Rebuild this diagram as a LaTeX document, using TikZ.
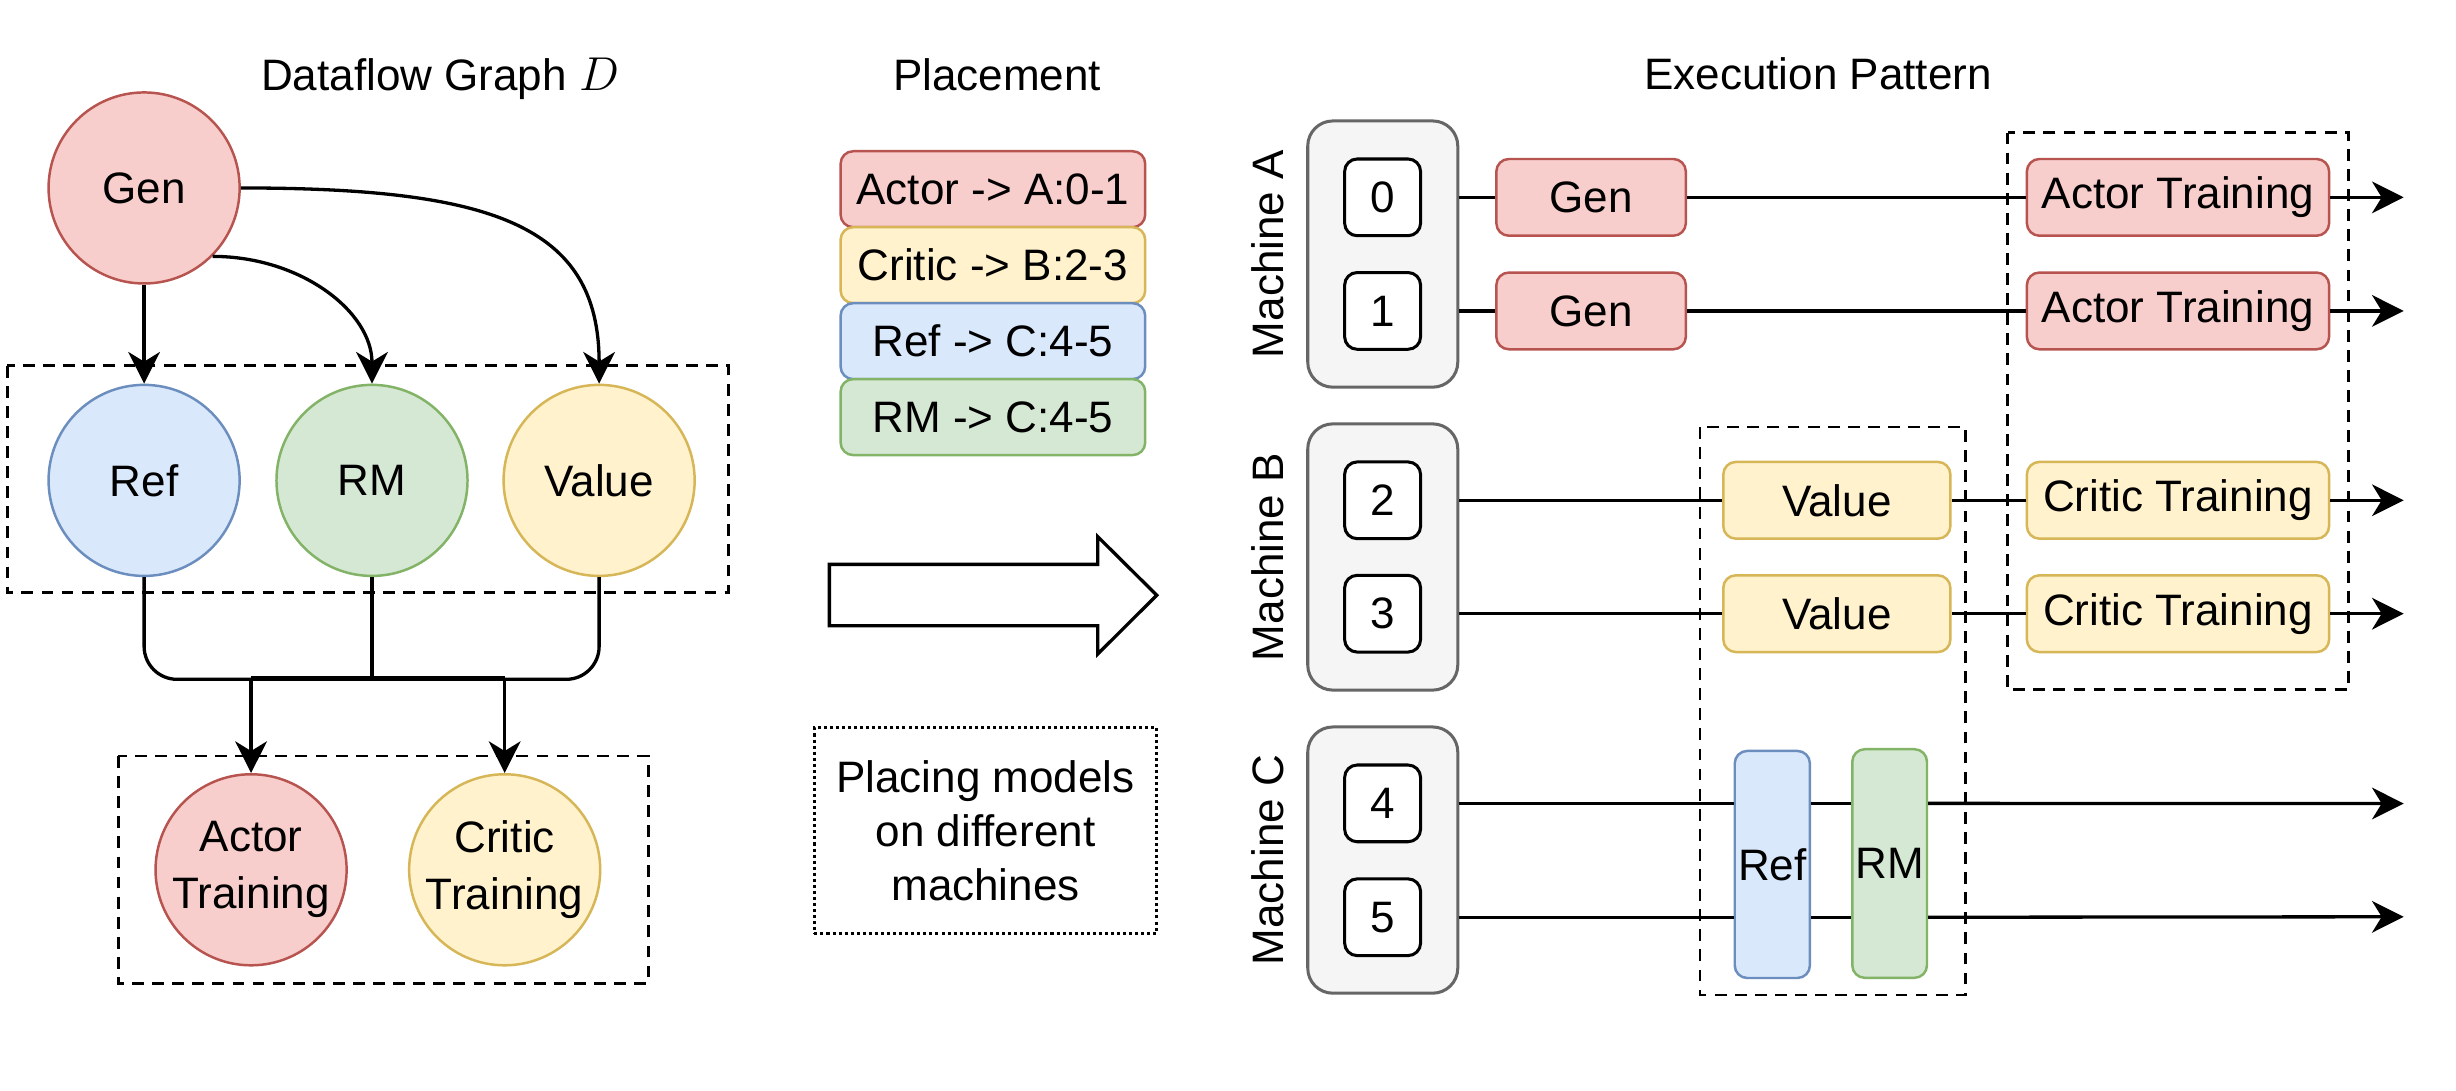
\documentclass[tikz,border=0pt]{standalone}
\usepackage{fontspec}
\setmainfont{Liberation Sans}
\usetikzlibrary{arrows.meta,calc}
\definecolor{redF}{HTML}{F8CECC}\definecolor{redD}{HTML}{B85450}
\definecolor{yelF}{HTML}{FFF2CC}\definecolor{yelD}{HTML}{D6B656}
\definecolor{bluF}{HTML}{DAE8FC}\definecolor{bluD}{HTML}{6C8EBF}
\definecolor{grnF}{HTML}{D5E8D4}\definecolor{grnD}{HTML}{82B366}
\definecolor{gryF}{HTML}{F5F5F5}\definecolor{gryD}{HTML}{666666}
\begin{document}
\begin{tikzpicture}[x=0.02cm,y=-0.02cm,
  every node/.style={font=\fontsize{16}{19.7}\selectfont, inner sep=0pt},
  circ/.style={circle, minimum size=2.44cm, line width=0.9pt, align=center, font=\fontsize{16}{20.8}\selectfont},
  redC/.style={circ, fill=redF, draw=redD},
  yelC/.style={circ, fill=yelF, draw=yelD},
  bluC/.style={circ, fill=bluF, draw=bluD},
  grnC/.style={circ, fill=grnF, draw=grnD},
  rbox/.style={rectangle, rounded corners=0.16cm, line width=0.9pt, minimum height=0.98cm},
  pbox/.style={rbox, minimum width=3.89cm, minimum height=0.97cm},
  redB/.style={fill=redF, draw=redD},
  yelB/.style={fill=yelF, draw=yelD},
  bluB/.style={fill=bluF, draw=bluD},
  grnB/.style={fill=grnF, draw=grnD},
  mbox/.style={rectangle, rounded corners=0.32cm, line width=1.1pt, fill=gryF, draw=gryD, minimum width=1.916cm, minimum height=3.4cm},
  gbox/.style={rectangle, rounded corners=0.16cm, line width=1.1pt, fill=white, draw=black, minimum width=0.97cm, minimum height=0.98cm},
  ln/.style={line width=1.2pt},
  arr/.style={line width=1.2pt, -{Stealth[length=11.5pt,width=11.5pt,inset=3.5pt]}},
  dbox/.style={line width=0.95pt, dash pattern=on 4.3pt off 3pt},
]
\fill[white] (0,0) rectangle (1568,696);
\useasboundingbox (0,0) rectangle (1568,696);

% ---------- Dataflow graph ----------
\node[anchor=base] (t1) at (281,57.5) {Dataflow Graph $D$};
\draw[dbox] (4.7,233.5) rectangle (465,378.4);
\draw[dbox] (75.5,482.7) rectangle (414,627.8);
\node[redC] (gen) at (92,120) {Gen};
\node[bluC] (ref) at (92,306.7) {Ref};
\node[grnC] (rm) at (237.5,306.7) {RM};
\node[yelC] (value) at (382.5,306.7) {Value};
\node[redC] (actor) at (160.3,555.3) {Actor\\Training};
\node[yelC] (critic) at (322.2,555.3) {Critic\\Training};

\draw[arr] (gen.south) -- (ref.north);
\draw[arr] (gen.-45) .. controls ($(gen.-45)+(56.5,0)$) and ($(rm.north)+(0,-45.9)$) .. (rm.north);
\draw[arr] (gen.east) .. controls ($(gen.east)+(161,0)$) and ($(value.north)+(0,-101)$) .. (value.north);

\coordinate (bus) at (0,433.7);
\coordinate (busA) at (actor.north |- bus);
\coordinate (busC) at (critic.north |- bus);
\draw[ln, rounded corners=0.42cm] (ref.south) |- (rm.south |- bus) -| (value.south);
\draw[ln] (rm.south) -- (rm.south |- bus);
\draw[ln] ($(busA)+(0,-0.9)$) -- ($(busC)+(0,-0.9)$);
\draw[arr] (busA) -- (actor.north);
\draw[arr] (busC) -- (critic.north);

% ---------- Placement ----------
\node[anchor=base] (t2) at (636.6,57.5) {Placement};
\node[pbox, redB] (p1) at (633.9,120.8) {Actor -> A:0-1};
\node[pbox, yelB] (p2) at (633.9,169.3) {Critic -> B:2-3};
\node[pbox, bluB] (p3) at (633.9,217.8) {Ref -> C:4-5};
\node[pbox, grnB] (p4) at (633.9,266.3) {RM -> C:4-5};

\draw[line width=1.2pt, fill=white] (529.5,360.3) -- (700.8,360.3) -- (700.8,342.6) -- (738.5,380) -- (700.8,417.6) -- (700.8,399.5) -- (529.5,399.5) -- cycle;

\node[draw, line width=1.1pt, dash pattern=on 1.1pt off 1.1pt, minimum width=4.372cm, minimum height=2.626cm, align=center] (note) at (629.2,530.25) {Placing models\\on different\\machines};

% ---------- Execution pattern ----------
\node[anchor=base] (t3) at (1160.7,57) {Execution Pattern};

\node[mbox] (mA) at (882.8,162.2) {};
\node[mbox] (mB) at (882.8,355.6) {};
\node[mbox] (mC) at (882.8,549.1) {};
\node[rotate=90] (lA) at (809.5,162.2) {Machine A};
\node[rotate=90] (lB) at (809.5,355.6) {Machine B};
\node[rotate=90] (lC) at (809.5,549.1) {Machine C};

\node[gbox] (g0) at (882.7,126) {0};
\node[gbox] (g1) at (882.7,198.5) {1};
\node[gbox] (g2) at (882.7,319.4) {2};
\node[gbox] (g3) at (882.7,391.8) {3};
\node[gbox] (g4) at (882.7,512.9) {4};
\node[gbox] (g5) at (882.7,585.6) {5};

\draw[dbox] (1281.8,84.6) rectangle (1499.3,440.2);
\draw[dbox] (1085.4,272.7) rectangle (1254.7,635.3);

\node[rbox, redB, minimum width=2.42cm] (gen0) at (1015.8,126) {Gen};
\node[rbox, redB, minimum width=2.42cm] (gen1) at (1015.8,198.5) {Gen};
\node[rbox, redB, minimum width=3.86cm] (at0) at (1390.5,126) {Actor Training};
\node[rbox, redB, minimum width=3.86cm] (at1) at (1390.5,198.5) {Actor Training};
\node[rbox, yelB, minimum width=2.9cm] (v2) at (1172.7,319.4) {Value};
\node[rbox, yelB, minimum width=2.9cm] (v3) at (1172.7,391.8) {Value};
\node[rbox, yelB, minimum width=3.86cm] (ct2) at (1390.5,319.4) {Critic Training};
\node[rbox, yelB, minimum width=3.86cm] (ct3) at (1390.5,391.8) {Critic Training};
\node[rbox, bluB, minimum width=0.96cm, minimum height=2.9cm] (xref) at (1131.5,551.9) {Ref};
\node[rbox, grnB, minimum width=0.954cm, minimum height=2.92cm] (xrm) at (1206.4,551.3) {RM};

\coordinate (e0) at (1534.6,126);
\coordinate (e1) at (1534.6,198.5);
\coordinate (e2) at (1534.6,319.4);
\coordinate (e3) at (1534.6,391.8);
\coordinate (e4) at (1534.6,513);
\coordinate (e5) at (1534.6,585.3);

\draw[ln] (g0 -| mA.east) -- (gen0.west);
\draw[ln] (gen0.east) -- (at0.west);
\draw[arr] (at0.east) -- (e0);
\draw[ln] (g1 -| mA.east) -- (gen1.west);
\draw[ln] (gen1.east) -- (at1.west);
\draw[arr] (at1.east) -- (e1);

\draw[ln] (g2 -| mB.east) -- (v2.west);
\draw[ln] (v2.east) -- (ct2.west);
\draw[arr] (ct2.east) -- (e2);
\draw[ln] (g3 -| mB.east) -- (v3.west);
\draw[ln] (v3.east) -- (ct3.west);
\draw[arr] (ct3.east) -- (e3);

\draw[ln] (g4 -| mC.east) -- (g4 -| xref.west);
\draw[ln] (g4 -| xref.east) -- (g4 -| xrm.west);
\draw[arr] (g4 -| xrm.east) -- (e4);
\draw[ln] (g5 -| mC.east) -- (g5 -| xref.west);
\draw[ln] (g5 -| xref.east) -- (g5 -| xrm.west);
\draw[arr] (g5 -| xrm.east) -- (e5);
\end{tikzpicture}
\end{document}
